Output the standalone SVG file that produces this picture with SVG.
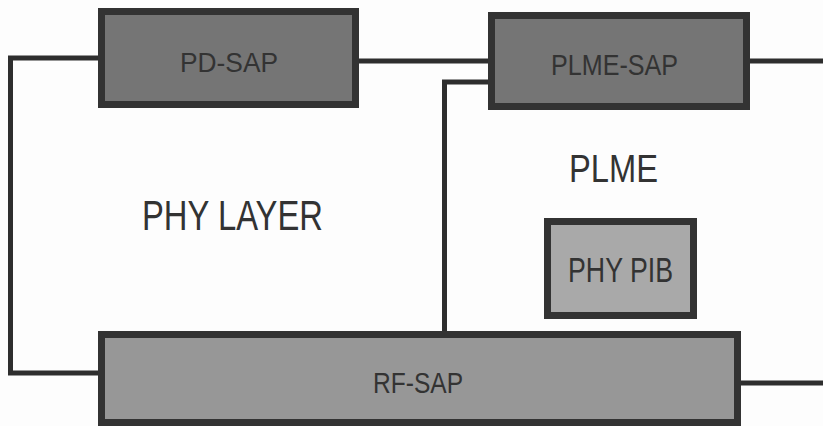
<svg xmlns="http://www.w3.org/2000/svg" width="823" height="426" viewBox="0 0 823 426">
<style>
.bg{fill:#fdfdfd}
.box{stroke:#333;stroke-width:7}
.dark{fill:#757575}
.mid{fill:#979797}
.light{fill:#a9a9a9}
.wire{fill:none;stroke:#2e2e2e;stroke-width:5}
text{font-family:"Liberation Sans Narrow","Liberation Sans",Arial,sans-serif;fill:#333;text-anchor:start}
</style>
<rect class="bg" x="0" y="0" width="823" height="426"/>
<g id="connectors">
<polyline class="wire" points="98,58 10.5,58 10.5,373 98,373"/>
<line class="wire" x1="359" y1="61" x2="488" y2="61"/>
<line class="wire" x1="750" y1="61" x2="823" y2="61"/>
<polyline class="wire" points="488,82 444.5,82 444.5,331"/>
<line class="wire" x1="741" y1="383" x2="823" y2="383"/>
</g>
<g id="pd-sap">
<rect class="box dark" x="101.5" y="11.5" width="254" height="93"/>
<text x="180" y="72" font-size="28" textLength="98" lengthAdjust="spacingAndGlyphs">PD-SAP</text>
</g>
<g id="plme-sap">
<rect class="box dark" x="491.5" y="15.5" width="255" height="91"/>
<text x="551" y="75" font-size="30" textLength="127" lengthAdjust="spacingAndGlyphs">PLME-SAP</text>
</g>
<g id="phy-layer">
<text x="142" y="230" font-size="42" textLength="181" lengthAdjust="spacingAndGlyphs">PHY LAYER</text>
</g>
<g id="plme">
<text x="569" y="182" font-size="38" textLength="89" lengthAdjust="spacingAndGlyphs">PLME</text>
</g>
<g id="phy-pib">
<rect class="box light" x="547.5" y="221.5" width="146" height="94"/>
<text x="568" y="282" font-size="35" textLength="105" lengthAdjust="spacingAndGlyphs">PHY PIB</text>
</g>
<g id="rf-sap">
<rect class="box mid" x="101.5" y="334.5" width="636" height="88"/>
<text x="373" y="393" font-size="29" textLength="90" lengthAdjust="spacingAndGlyphs">RF-SAP</text>
</g>
</svg>
